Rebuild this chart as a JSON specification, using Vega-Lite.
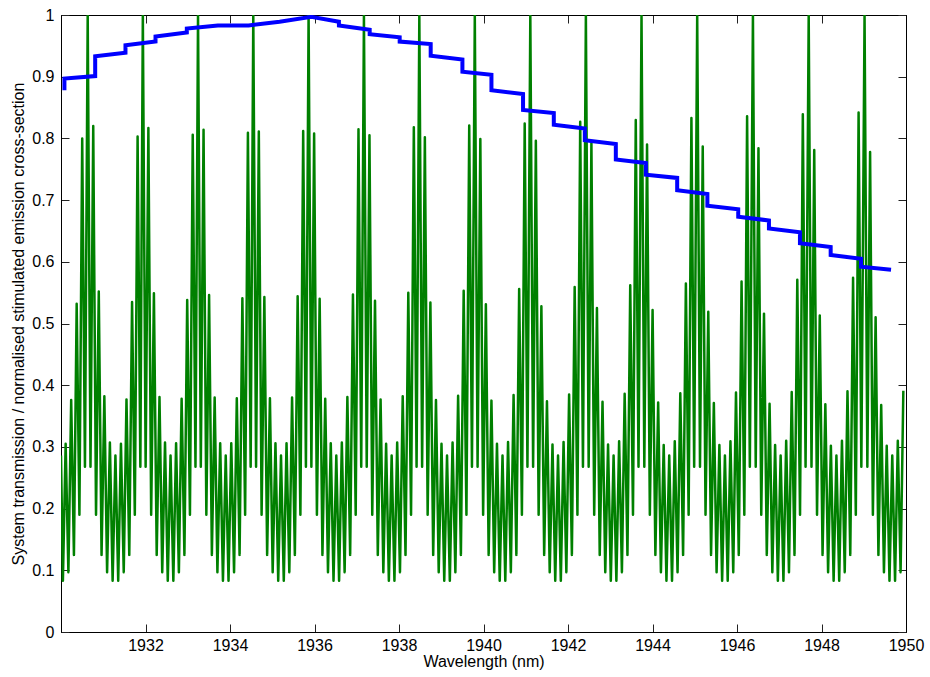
{
  "$schema": "https://vega.github.io/schema/vega-lite/v6.json",
  "width": 845,
  "height": 617,
  "autosize": {"type": "none"},
  "padding": {"left": 61, "top": 15, "right": 24, "bottom": 45},
  "background": "white",
  "config": {
    "view": {"stroke": "black", "strokeWidth": 1},
    "font": "Liberation Sans",
    "axis": {"grid": false, "domainColor": "black", "domainWidth": 1, "tickColor": "#222", "tickWidth": 1, "labelColor": "black", "titleColor": "black", "labelFont": "Liberation Sans", "titleFont": "Liberation Sans", "titleFontWeight": "normal", "labelFontSize": 16, "titleFontSize": 16}
  },
  "datasets": {
    "green": [
      {"nm":1930.000,"v":0.286},{"nm":1930.045,"v":0.083},{"nm":1930.110,"v":0.305},{"nm":1930.175,"v":0.097},{"nm":1930.241,"v":0.376},{"nm":1930.306,"v":0.125},{"nm":1930.371,"v":0.532},{"nm":1930.436,"v":0.19},{"nm":1930.502,"v":0.800},{"nm":1930.567,"v":0.268},
      {"nm":1930.632,"v":1},{"nm":1930.698,"v":0.268},{"nm":1930.763,"v":0.820},{"nm":1930.829,"v":0.19},{"nm":1930.894,"v":0.552},{"nm":1930.960,"v":0.125},{"nm":1931.026,"v":0.382},{"nm":1931.091,"v":0.097},{"nm":1931.157,"v":0.307},{"nm":1931.222,"v":0.083},{"nm":1931.288,"v":0.286},{"nm":1931.354,"v":0.083},{"nm":1931.419,"v":0.305},{"nm":1931.485,"v":0.097},{"nm":1931.550,"v":0.377},{"nm":1931.616,"v":0.125},{"nm":1931.682,"v":0.535},{"nm":1931.747,"v":0.19},{"nm":1931.813,"v":0.803},{"nm":1931.878,"v":0.268},
      {"nm":1931.937,"v":1},{"nm":1932.003,"v":0.268},{"nm":1932.068,"v":0.817},{"nm":1932.134,"v":0.19},{"nm":1932.199,"v":0.549},{"nm":1932.265,"v":0.125},{"nm":1932.331,"v":0.381},{"nm":1932.396,"v":0.097},{"nm":1932.462,"v":0.307},{"nm":1932.527,"v":0.083},{"nm":1932.593,"v":0.286},{"nm":1932.659,"v":0.083},{"nm":1932.724,"v":0.306},{"nm":1932.790,"v":0.097},{"nm":1932.855,"v":0.378},{"nm":1932.921,"v":0.125},{"nm":1932.987,"v":0.538},{"nm":1933.052,"v":0.19},{"nm":1933.118,"v":0.806},{"nm":1933.183,"v":0.268},
      {"nm":1933.243,"v":1},{"nm":1933.309,"v":0.268},{"nm":1933.374,"v":0.814},{"nm":1933.440,"v":0.19},{"nm":1933.505,"v":0.546},{"nm":1933.571,"v":0.125},{"nm":1933.637,"v":0.380},{"nm":1933.702,"v":0.097},{"nm":1933.768,"v":0.306},{"nm":1933.833,"v":0.083},{"nm":1933.899,"v":0.286},{"nm":1933.965,"v":0.083},{"nm":1934.030,"v":0.306},{"nm":1934.096,"v":0.097},{"nm":1934.161,"v":0.379},{"nm":1934.227,"v":0.125},{"nm":1934.293,"v":0.541},{"nm":1934.358,"v":0.19},{"nm":1934.424,"v":0.809},{"nm":1934.489,"v":0.268},
      {"nm":1934.551,"v":1},{"nm":1934.617,"v":0.268},{"nm":1934.682,"v":0.811},{"nm":1934.748,"v":0.19},{"nm":1934.813,"v":0.543},{"nm":1934.879,"v":0.125},{"nm":1934.945,"v":0.379},{"nm":1935.010,"v":0.097},{"nm":1935.076,"v":0.306},{"nm":1935.141,"v":0.083},{"nm":1935.207,"v":0.286},{"nm":1935.273,"v":0.083},{"nm":1935.338,"v":0.306},{"nm":1935.404,"v":0.097},{"nm":1935.469,"v":0.380},{"nm":1935.535,"v":0.125},{"nm":1935.601,"v":0.544},{"nm":1935.666,"v":0.19},{"nm":1935.732,"v":0.812},{"nm":1935.797,"v":0.268},
      {"nm":1935.860,"v":1},{"nm":1935.926,"v":0.268},{"nm":1935.991,"v":0.808},{"nm":1936.057,"v":0.19},{"nm":1936.122,"v":0.540},{"nm":1936.188,"v":0.125},{"nm":1936.254,"v":0.378},{"nm":1936.319,"v":0.097},{"nm":1936.385,"v":0.306},{"nm":1936.450,"v":0.083},{"nm":1936.516,"v":0.286},{"nm":1936.582,"v":0.083},{"nm":1936.647,"v":0.307},{"nm":1936.713,"v":0.097},{"nm":1936.778,"v":0.381},{"nm":1936.844,"v":0.125},{"nm":1936.910,"v":0.547},{"nm":1936.975,"v":0.19},{"nm":1937.041,"v":0.815},{"nm":1937.106,"v":0.268},
      {"nm":1937.170,"v":1},{"nm":1937.236,"v":0.268},{"nm":1937.301,"v":0.805},{"nm":1937.367,"v":0.19},{"nm":1937.432,"v":0.537},{"nm":1937.498,"v":0.125},{"nm":1937.564,"v":0.377},{"nm":1937.629,"v":0.097},{"nm":1937.695,"v":0.305},{"nm":1937.760,"v":0.083},{"nm":1937.826,"v":0.286},{"nm":1937.892,"v":0.083},{"nm":1937.957,"v":0.307},{"nm":1938.023,"v":0.097},{"nm":1938.088,"v":0.382},{"nm":1938.154,"v":0.125},{"nm":1938.220,"v":0.550},{"nm":1938.285,"v":0.19},{"nm":1938.351,"v":0.818},{"nm":1938.416,"v":0.268},
      {"nm":1938.481,"v":1},{"nm":1938.547,"v":0.268},{"nm":1938.612,"v":0.802},{"nm":1938.678,"v":0.19},{"nm":1938.743,"v":0.534},{"nm":1938.809,"v":0.125},{"nm":1938.875,"v":0.376},{"nm":1938.940,"v":0.097},{"nm":1939.006,"v":0.305},{"nm":1939.071,"v":0.083},{"nm":1939.137,"v":0.286},{"nm":1939.203,"v":0.083},{"nm":1939.268,"v":0.307},{"nm":1939.334,"v":0.097},{"nm":1939.399,"v":0.383},{"nm":1939.465,"v":0.125},{"nm":1939.531,"v":0.553},{"nm":1939.596,"v":0.19},{"nm":1939.662,"v":0.821},{"nm":1939.727,"v":0.268},
      {"nm":1939.794,"v":1},{"nm":1939.860,"v":0.268},{"nm":1939.925,"v":0.799},{"nm":1939.991,"v":0.19},{"nm":1940.056,"v":0.531},{"nm":1940.122,"v":0.125},{"nm":1940.188,"v":0.375},{"nm":1940.253,"v":0.097},{"nm":1940.319,"v":0.305},{"nm":1940.384,"v":0.083},{"nm":1940.450,"v":0.286},{"nm":1940.516,"v":0.083},{"nm":1940.581,"v":0.308},{"nm":1940.647,"v":0.097},{"nm":1940.712,"v":0.384},{"nm":1940.778,"v":0.125},{"nm":1940.844,"v":0.556},{"nm":1940.909,"v":0.19},{"nm":1940.975,"v":0.824},{"nm":1941.040,"v":0.268},
      {"nm":1941.108,"v":1},{"nm":1941.174,"v":0.268},{"nm":1941.239,"v":0.796},{"nm":1941.305,"v":0.19},{"nm":1941.370,"v":0.528},{"nm":1941.436,"v":0.125},{"nm":1941.502,"v":0.374},{"nm":1941.567,"v":0.097},{"nm":1941.633,"v":0.304},{"nm":1941.698,"v":0.083},{"nm":1941.764,"v":0.286},{"nm":1941.830,"v":0.083},{"nm":1941.895,"v":0.308},{"nm":1941.961,"v":0.097},{"nm":1942.026,"v":0.385},{"nm":1942.092,"v":0.125},{"nm":1942.158,"v":0.559},{"nm":1942.223,"v":0.19},{"nm":1942.289,"v":0.827},{"nm":1942.354,"v":0.268},
      {"nm":1942.423,"v":1},{"nm":1942.489,"v":0.268},{"nm":1942.554,"v":0.793},{"nm":1942.620,"v":0.19},{"nm":1942.685,"v":0.525},{"nm":1942.751,"v":0.125},{"nm":1942.817,"v":0.373},{"nm":1942.882,"v":0.097},{"nm":1942.948,"v":0.304},{"nm":1943.013,"v":0.083},{"nm":1943.079,"v":0.286},{"nm":1943.145,"v":0.083},{"nm":1943.210,"v":0.309},{"nm":1943.276,"v":0.097},{"nm":1943.341,"v":0.386},{"nm":1943.407,"v":0.125},{"nm":1943.473,"v":0.562},{"nm":1943.538,"v":0.19},{"nm":1943.604,"v":0.830},{"nm":1943.669,"v":0.268},
      {"nm":1943.740,"v":1},{"nm":1943.806,"v":0.268},{"nm":1943.871,"v":0.790},{"nm":1943.937,"v":0.19},{"nm":1944.002,"v":0.522},{"nm":1944.068,"v":0.125},{"nm":1944.134,"v":0.372},{"nm":1944.199,"v":0.097},{"nm":1944.265,"v":0.303},{"nm":1944.330,"v":0.083},{"nm":1944.396,"v":0.286},{"nm":1944.462,"v":0.083},{"nm":1944.527,"v":0.309},{"nm":1944.593,"v":0.097},{"nm":1944.658,"v":0.387},{"nm":1944.724,"v":0.125},{"nm":1944.790,"v":0.565},{"nm":1944.855,"v":0.19},{"nm":1944.921,"v":0.833},{"nm":1944.986,"v":0.268},
      {"nm":1945.058,"v":1},{"nm":1945.124,"v":0.268},{"nm":1945.189,"v":0.787},{"nm":1945.255,"v":0.19},{"nm":1945.320,"v":0.519},{"nm":1945.386,"v":0.125},{"nm":1945.452,"v":0.371},{"nm":1945.517,"v":0.097},{"nm":1945.583,"v":0.303},{"nm":1945.648,"v":0.083},{"nm":1945.714,"v":0.286},{"nm":1945.780,"v":0.083},{"nm":1945.845,"v":0.309},{"nm":1945.911,"v":0.097},{"nm":1945.976,"v":0.388},{"nm":1946.042,"v":0.125},{"nm":1946.108,"v":0.568},{"nm":1946.173,"v":0.19},{"nm":1946.239,"v":0.836},{"nm":1946.304,"v":0.268},
      {"nm":1946.377,"v":1},{"nm":1946.443,"v":0.268},{"nm":1946.508,"v":0.784},{"nm":1946.574,"v":0.19},{"nm":1946.639,"v":0.516},{"nm":1946.705,"v":0.125},{"nm":1946.771,"v":0.370},{"nm":1946.836,"v":0.097},{"nm":1946.902,"v":0.303},{"nm":1946.967,"v":0.083},{"nm":1947.033,"v":0.286},{"nm":1947.099,"v":0.083},{"nm":1947.164,"v":0.310},{"nm":1947.230,"v":0.097},{"nm":1947.295,"v":0.389},{"nm":1947.361,"v":0.125},{"nm":1947.427,"v":0.571},{"nm":1947.492,"v":0.19},{"nm":1947.558,"v":0.839},{"nm":1947.623,"v":0.268},
      {"nm":1947.697,"v":1},{"nm":1947.763,"v":0.268},{"nm":1947.828,"v":0.781},{"nm":1947.894,"v":0.19},{"nm":1947.959,"v":0.513},{"nm":1948.025,"v":0.125},{"nm":1948.091,"v":0.369},{"nm":1948.156,"v":0.097},{"nm":1948.222,"v":0.302},{"nm":1948.287,"v":0.083},{"nm":1948.353,"v":0.286},{"nm":1948.419,"v":0.083},{"nm":1948.484,"v":0.310},{"nm":1948.550,"v":0.097},{"nm":1948.615,"v":0.390},{"nm":1948.681,"v":0.125},{"nm":1948.747,"v":0.574},{"nm":1948.812,"v":0.19},{"nm":1948.878,"v":0.842},{"nm":1948.943,"v":0.268},
      {"nm":1949.019,"v":1},{"nm":1949.085,"v":0.268},{"nm":1949.150,"v":0.778},{"nm":1949.216,"v":0.19},{"nm":1949.281,"v":0.510},{"nm":1949.347,"v":0.125},{"nm":1949.413,"v":0.368},{"nm":1949.478,"v":0.097},{"nm":1949.544,"v":0.302},{"nm":1949.609,"v":0.083},{"nm":1949.675,"v":0.286},{"nm":1949.741,"v":0.083},{"nm":1949.806,"v":0.310},{"nm":1949.872,"v":0.097},{"nm":1949.937,"v":0.391}
    ],
    "blue": [
      {"nm":1930.081,"v":0.878},{"nm":1930.081,"v":0.897},{"nm":1930.809,"v":0.901},{"nm":1930.809,"v":0.933},{"nm":1931.526,"v":0.939},{"nm":1931.526,"v":0.951},{"nm":1932.237,"v":0.957},{"nm":1932.237,"v":0.965},{"nm":1932.978,"v":0.9715},{"nm":1932.978,"v":0.978},{"nm":1933.712,"v":0.983},{"nm":1934.440,"v":0.983},{"nm":1935.174,"v":0.989},{"nm":1935.925,"v":0.997},
      {"nm":1936.578,"v":0.989},{"nm":1936.578,"v":0.983},{"nm":1937.306,"v":0.976},{"nm":1937.306,"v":0.969},{"nm":1938.016,"v":0.964},{"nm":1938.016,"v":0.957},{"nm":1938.750,"v":0.953},{"nm":1938.750,"v":0.934},{"nm":1939.501,"v":0.928},{"nm":1939.501,"v":0.908},{"nm":1940.188,"v":0.903},{"nm":1940.188,"v":0.878},{"nm":1940.936,"v":0.872},{"nm":1940.936,"v":0.846},{"nm":1941.664,"v":0.841},{"nm":1941.664,"v":0.822},{"nm":1942.398,"v":0.816},{"nm":1942.398,"v":0.797},{"nm":1943.132,"v":0.791},{"nm":1943.132,"v":0.766},{"nm":1943.843,"v":0.760},{"nm":1943.843,"v":0.741},{"nm":1944.584,"v":0.736},{"nm":1944.584,"v":0.716},{"nm":1945.299,"v":0.710},{"nm":1945.299,"v":0.691},{"nm":1946.029,"v":0.685},{"nm":1946.029,"v":0.673},{"nm":1946.756,"v":0.667},{"nm":1946.756,"v":0.654},{"nm":1947.490,"v":0.648},{"nm":1947.490,"v":0.630},{"nm":1948.217,"v":0.624},{"nm":1948.217,"v":0.611},{"nm":1948.935,"v":0.605},{"nm":1948.935,"v":0.592},{"nm":1949.646,"v":0.587}
    ]
  },
  "layer": [
    {
      "data": {"name": "green"},
      "mark": {"type": "line", "color": "#008000", "strokeWidth": 2.5, "strokeJoin": "round", "clip": true},
      "encoding": {
        "x": {"field": "nm", "type": "quantitative", "scale": {"domain": [1930, 1950], "nice": false, "zero": false},
              "axis": {"orient": "bottom", "values": [1932,1934,1936,1938,1940,1942,1944,1946,1948,1950], "format": "d", "tickSize": -8, "labelPadding": 13, "labelFlush": false, "labelOverlap": false, "title": "Wavelength (nm)", "titlePadding": 0}},
        "y": {"field": "v", "type": "quantitative", "scale": {"domain": [0, 1], "nice": false, "zero": false},
              "axis": {"orient": "left", "values": [0,0.1,0.2,0.3,0.4,0.5,0.6,0.7,0.8,0.9,1], "format": "~g", "tickSize": -8, "labelPadding": 15, "labelOverlap": false, "labelFlush": false, "title": "System transmission / normalised stimulated emission cross-section", "titlePadding": 5}}
      }
    },
    {
      "data": {"name": "blue"},
      "transform": [{"window": [{"op": "row_number", "as": "i"}]}],
      "mark": {"type": "line", "color": "#0000ff", "strokeWidth": 4, "clip": true},
      "encoding": {
        "x": {"field": "nm", "type": "quantitative", "scale": {"domain": [1930, 1950], "nice": false, "zero": false},
              "axis": {"orient": "top", "values": [1932,1934,1936,1938,1940,1942,1944,1946,1948,1950], "tickSize": -8, "labels": false, "title": null}},
        "y": {"field": "v", "type": "quantitative", "scale": {"domain": [0, 1], "nice": false, "zero": false},
              "axis": {"orient": "right", "values": [0,0.1,0.2,0.3,0.4,0.5,0.6,0.7,0.8,0.9,1], "tickSize": -8, "labels": false, "title": null}},
        "order": {"field": "i", "type": "quantitative"}
      }
    }
  ],
  "resolve": {"axis": {"x": "independent", "y": "independent"}}
}
